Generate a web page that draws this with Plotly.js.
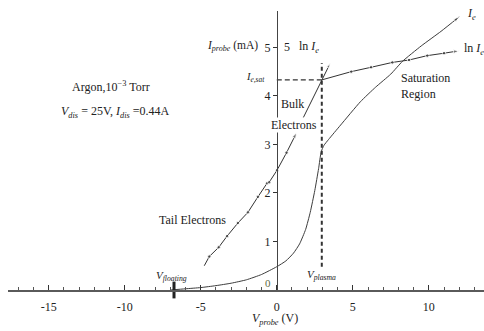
<!DOCTYPE html>
<html>
<head>
<meta charset="utf-8">
<script src="https://cdn.plot.ly/plotly-3.0.1.min.js"></script>
<style>html,body{margin:0;padding:0;background:#fff;}#chart{width:484px;height:331px;}</style>
</head>
<body>
<div id="chart"></div>
<script>
// ---- data ----
// electron current I_e (mA) vs probe voltage (V)
const ieV = [-7, -6, -5, -4, -3, -2, -1, 0, 0.6, 1.1, 1.5, 1.9, 2.2, 2.5, 2.75, 2.92, 3.1, 3.4, 4.2, 5.5, 6.5, 7.5, 8.26, 9.5, 10.8, 12.0];
const ieI = [0.0, 0.025, 0.05, 0.09, 0.14, 0.21, 0.32, 0.48, 0.6, 0.76, 0.95, 1.25, 1.6, 2.05, 2.5, 2.85, 2.98, 3.1, 3.4, 3.88, 4.18, 4.45, 4.71, 5.03, 5.33, 5.63];
// ln I_e : tail electrons
const tailV  = [-4.77, -4.44, -3.82, -3.27, -2.56, -1.9, -1.24, -0.64, -0.5, 0.02, 0.64, 1.3];
const tailLn = [0.50, 0.69, 0.88, 1.11, 1.38, 1.60, 1.92, 2.20, 2.22, 2.47, 2.83, 3.24];
// ln I_e : bulk electrons
const bulkV  = [1.74, 3.51];
const bulkLn = [3.55, 4.67];
// ln I_e : saturation region
const satV  = [2.96, 4.9, 6.2, 7.6, 8.7, 9.9, 11.0, 12.0];
const satLn = [4.33, 4.50, 4.59, 4.69, 4.74, 4.83, 4.88, 4.93];
// characteristic values
const vPlasma = 2.96;
const vPlasmaSpan = [0.48, 4.68];
const ieSat = 4.33;
const vFloating = -6.76;
// axis ticks
const xTickVals = [-15, -10, -5, 0, 5, 10];
const xTickText = ['-15', '-10', '-5', '0', '5', '10'];
const yTickVals = [1, 2, 3, 4, 5];
const yTickText = ['1', '2', '3', '4', '5'];

const xRange = [-17.68, 13.63];
const yRange = [0, 5.75];
const yAxisPos = (0 - xRange[0]) / (xRange[1] - xRange[0]);

const ink = '#333333';
const serif = '"Liberation Serif", "DejaVu Serif", serif';

function endSizes(n, dot, arrow) {
  const s = [];
  for (let i = 0; i < n; i++) s.push(i === 0 ? 0 : (i === n - 1 ? arrow : dot));
  return s;
}
function endSymbols(n) {
  const s = [];
  for (let i = 0; i < n; i++) s.push(i === n - 1 ? 'arrow' : 'circle');
  return s;
}

const traces = [
  { x: ieV, y: ieI, mode: 'lines+markers', line: {color: '#3c3c3c', width: 1, shape: 'spline', smoothing: 0.5},
    marker: {symbol: endSymbols(ieV.length), size: ieV.map((v, i) => i === ieV.length - 1 ? 6 : 0), angleref: 'previous', color: '#3c3c3c'},
    cliponaxis: false, hoverinfo: 'skip' },
  { x: tailV, y: tailLn, mode: 'lines+markers', line: {color: ink, width: 1},
    marker: {symbol: endSymbols(tailV.length), size: endSizes(tailV.length, 3.5, 6), angleref: 'previous', color: ink}, hoverinfo: 'skip' },
  { x: bulkV, y: bulkLn, mode: 'lines+markers', line: {color: ink, width: 1},
    marker: {symbol: endSymbols(bulkV.length), size: endSizes(bulkV.length, 3, 5), angleref: 'previous', color: ink}, hoverinfo: 'skip' },
  { x: satV, y: satLn, mode: 'lines+markers', line: {color: ink, width: 1},
    marker: {symbol: endSymbols(satV.length), size: endSizes(satV.length, 3.5, 6), angleref: 'previous', color: ink}, hoverinfo: 'skip' },
  { x: [0, vPlasma], y: [ieSat, ieSat], mode: 'lines', line: {color: ink, width: 1.2, dash: '5px,3px'}, hoverinfo: 'skip' },
  { x: [vPlasma, vPlasma], y: vPlasmaSpan, mode: 'lines', line: {color: ink, width: 2, dash: '4px,3px'}, hoverinfo: 'skip' },
  { x: [vFloating], y: [0], mode: 'markers', marker: {symbol: 'line-ns', size: 12, line: {width: 3, color: '#222'}},
    cliponaxis: false, hoverinfo: 'skip' }
];

const ann = (x, y, text, opts) => Object.assign({x: x, y: y, xref: 'x', yref: 'y', text: text, showarrow: false,
  font: {family: serif, size: 12, color: '#222'}}, opts || {});

const layout = {
  width: 484, height: 331,
  margin: {l: 8, r: 0, t: 11, b: 41},
  paper_bgcolor: '#fff', plot_bgcolor: '#fff',
  showlegend: false,
  font: {family: serif, color: '#222'},
  xaxis: {
    range: xRange, showgrid: false, zeroline: false,
    showline: true, linecolor: '#5a5a5a', linewidth: 2,
    tickvals: xTickVals, ticktext: xTickText,
    ticks: 'inside', ticklen: 5, tickwidth: 1, tickcolor: '#333',
    ticklabelstandoff: 5,
    minor: {dtick: 1, ticks: 'inside', ticklen: 3, tickcolor: '#555', showgrid: false},
    tickfont: {family: serif, size: 12, color: '#222'},
    fixedrange: true
  },
  yaxis: {
    range: yRange, showgrid: false, zeroline: false,
    anchor: 'free', position: yAxisPos,
    showline: true, linecolor: '#444', linewidth: 1,
    tickvals: yTickVals, ticktext: yTickText,
    ticks: 'outside', ticklen: 4, tickcolor: '#333',
    tickfont: {family: serif, size: 12, color: '#222'},
    fixedrange: true
  },
  annotations: [
    ann(-2.9, 5.03, '<i>I<sub>probe</sub></i> (mA)', {font: {family: serif, size: 11.5, color: '#222'}}),
    ann(0.67, 5.0, '5'),
    ann(2.15, 5.0, 'ln <i>I<sub>e</sub></i>'),
    ann(-1.37, 4.37, '<i>I<sub>e,sat</sub></i>', {font: {family: serif, size: 10.5, color: '#222'}}),
    ann(1.05, 3.83, 'Bulk'),
    ann(1.16, 3.40, 'Electrons', {bgcolor: '#fff', borderpad: 0}),
    ann(8.05, 4.21, 'Saturation<br>Region', {xanchor: 'left', align: 'left'}),
    ann(-5.55, 1.44, 'Tail Electrons'),
    ann(-6.9, 0.29, '<i>V<sub>floating</sub></i>', {font: {family: serif, size: 11, color: '#222'}}),
    ann(2.97, 0.31, '<i>V<sub>plasma</sub></i>', {font: {family: serif, size: 11, color: '#222'}}),
    ann(-10.9, 4.19, 'Argon,10<sup>−3</sup> Torr'),
    ann(-10.6, 3.67, '<i>V<sub>dis</sub></i> = 25V, <i>I<sub>dis</sub></i> =0.44A'),
    ann(12.84, 5.69, '<i>I<sub>e</sub></i>'),
    ann(12.18, 4.97, 'ln <i>I<sub>e</sub></i>', {xanchor: 'left'}),
    ann(-0.58, 0.14, '0', {font: {family: serif, size: 11, color: '#5f6b45'}}),
    {x: -0.12, y: -0.104, xref: 'x', yref: 'paper', yanchor: 'middle', showarrow: false,
     text: '<i>V<sub>probe</sub></i> (V)', font: {family: serif, size: 12, color: '#222'}}
  ]
};

Plotly.newPlot('chart', traces, layout, {staticPlot: true, displayModeBar: false});
</script>
</body>
</html>
